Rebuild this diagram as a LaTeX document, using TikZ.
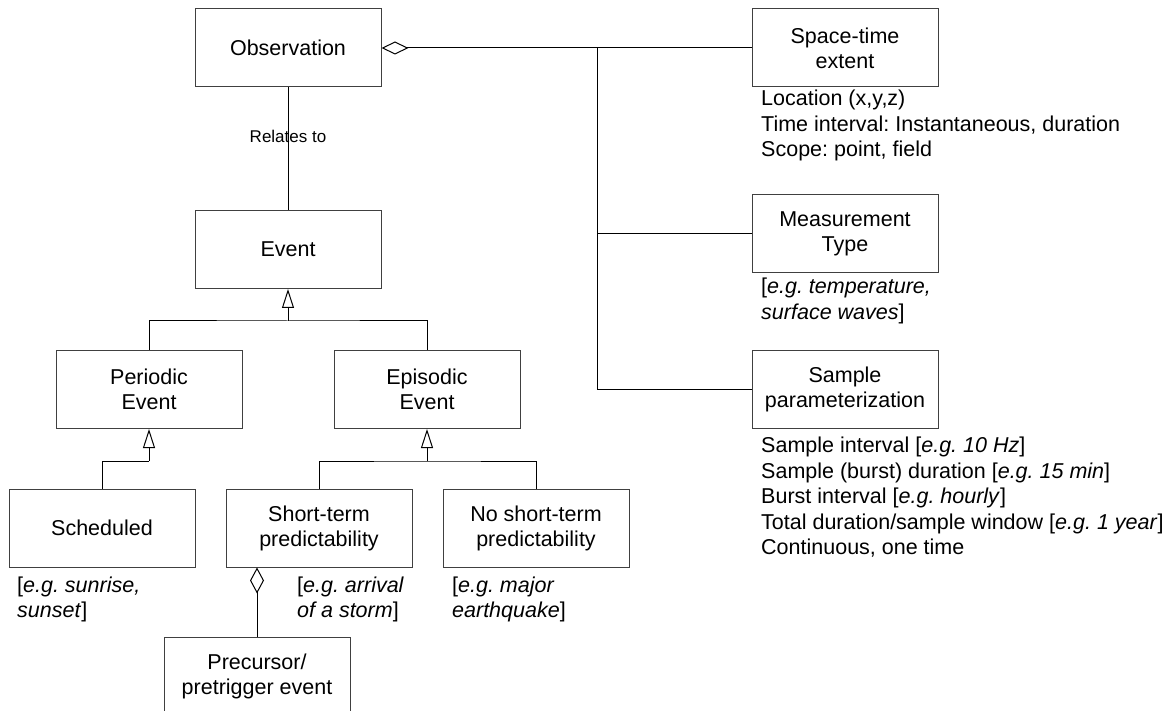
\documentclass[tikz,border=0pt]{standalone}
\usepackage{fontspec}
\setmainfont{Liberation Sans}
\usetikzlibrary{arrows.meta}
\frenchspacing
\newcommand\bxfont{\fontsize{21.5}{25}\selectfont}
\newcommand\ntfont{\fontsize{21.5}{25.5}\selectfont}
\newcommand\relfont{\fontsize{17}{20}\selectfont}
\tikzset{
  umlbox/.style={draw=black!75, line width=1pt, minimum width=186pt, minimum height=78pt,
    align=center, font=\bxfont, inner sep=0pt},
  note/.style={align=left, inner sep=0pt, font=\ntfont, anchor=base west},
  conn/.style={draw=black, line width=1pt},
  gen/.style={-{Triangle[open,length=19pt,width=12pt]}},
  agg/.style={{Diamond[open,length=27pt,width=13pt]}-},
}
\begin{document}
\begin{tikzpicture}[x=1pt,y=-1pt]
\useasboundingbox (0,0) rectangle (1173,711);
\clip (0,0) rectangle (1173,711);
% boxes
\node[umlbox] (obs) at (288,48) {Observation};
\node[umlbox] (st) at (845,48) {Space-time\\extent};
\node[umlbox] (mt) at (845,234) {Measurement\\Type};
\node[umlbox] (sp) at (845,389.5) {Sample\\parameterization};
\node[umlbox] (event) at (288,249.5) {Event};
\node[umlbox] (periodic) at (149,389.5) {Periodic\\Event};
\node[umlbox] (episodic) at (427,389.5) {Episodic\\Event};
\node[umlbox] (sched) at (102,528) {Scheduled};
\node[umlbox] (short) at (319,528) {Short-term\\predictability};
\node[umlbox] (noshort) at (536,528) {No short-term\\predictability};
\node[umlbox] (prec) at (257,676) {Precursor/\\pretrigger event};
% notes (anchor base = baseline of last line)
\node[note] (stn) at (761,157) {Location (x,y,z)\\Time interval: Instantaneous, duration\\Scope: point, field};
\node[note] (mtn) at (761,319.5) {[\textit{e.g. temperature,}\\\textit{surface waves}]};
\node[note] (spn) at (761,554.7) {Sample interval [\textit{e.g. 10 Hz}]\\Sample (burst) duration [\textit{e.g. 15 min}]\\Burst interval [\textit{e.g. hourly}]\\Total duration/sample window [\textit{e.g. 1 year}]\\Continuous, one time};
\node[note] (schedn) at (17,617.5) {[\textit{e.g. sunrise,}\\\textit{sunset}]};
\node[note] (shortn) at (297,617.5) {[\textit{e.g. arrival}\\\textit{of a storm}]};
\node[note] (noshortn) at (452,617.5) {[\textit{e.g. major}\\\textit{earthquake}]};
% aggregation
\coordinate (j4) at (597,48);
\draw[conn,agg] (obs.east) -- (st.west);
\draw[conn] (j4) |- (mt.west);
\draw[conn] (j4) |- (sp.west);
% relates to
\draw[conn] (obs.south) -- (event.north);
\node[font=\relfont, anchor=base, inner sep=0pt] (rel) at (288,143) {Relates to};
% generalizations
\coordinate (j1) at (288,321);
\draw[conn] (periodic.north) |- (j1) -| (episodic.north);
\draw[conn,gen] (j1) -- (event.south);
\coordinate (j2) at (149,461);
\draw[conn] (sched.north) |- (j2);
\draw[conn,gen] (j2) -- (periodic.south);
\coordinate (j3) at (427,461);
\draw[conn] (short.north) |- (j3) -| (noshort.north);
\draw[conn,gen] (j3) -- (episodic.south);
% precursor aggregation
\draw[conn,{Diamond[open,length=26pt,width=14pt]}-] (short.south -| prec.north) -- (prec.north);
\end{tikzpicture}
\end{document}
